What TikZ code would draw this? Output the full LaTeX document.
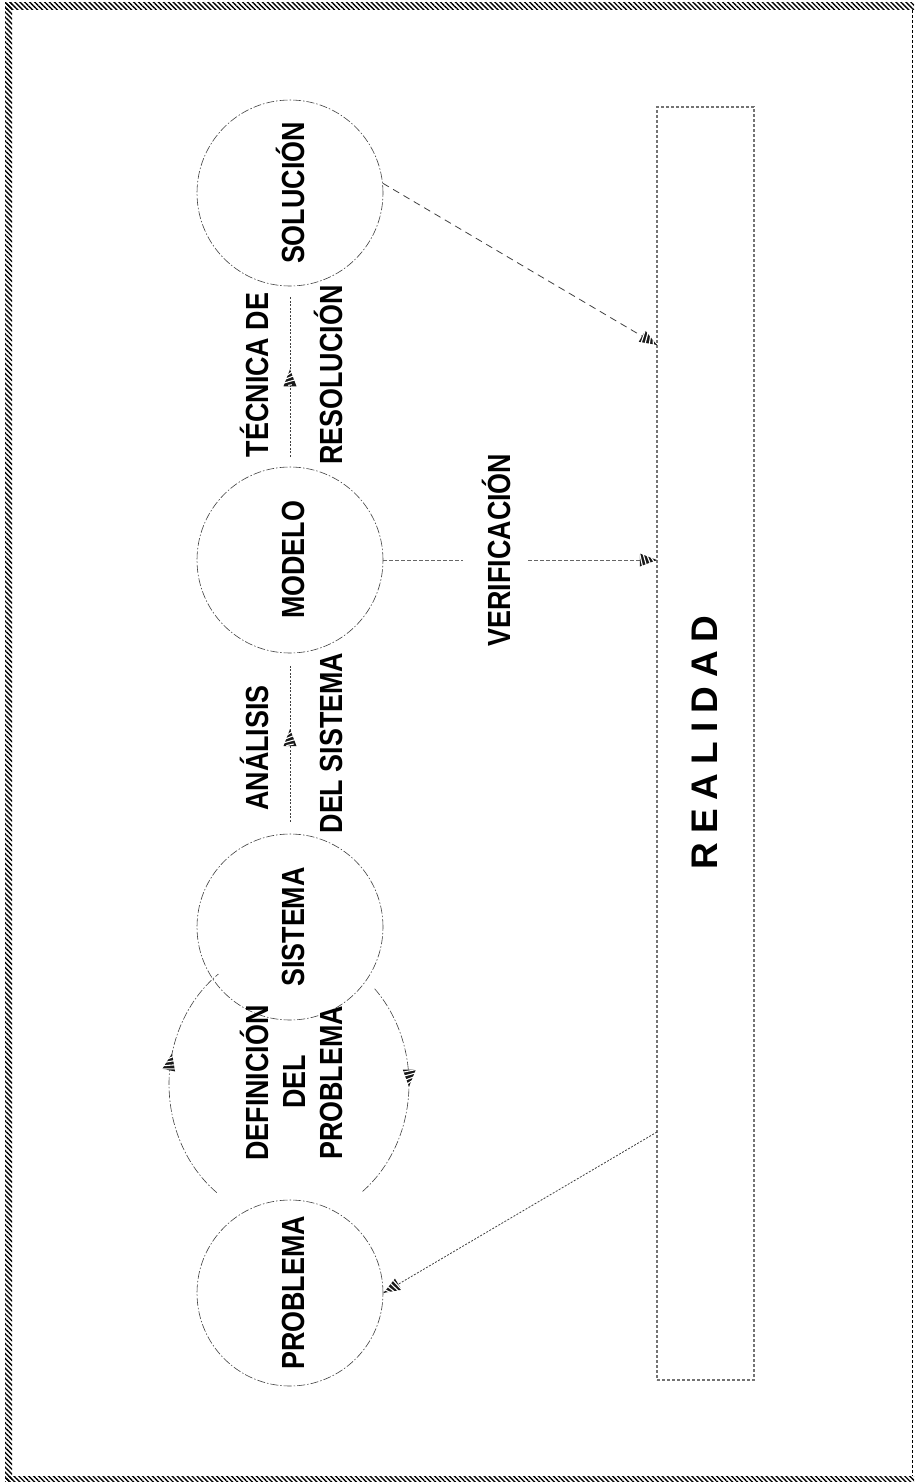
\documentclass[tikz,border=0pt]{standalone}
\usepackage{fontspec}
\newfontfamily\labfam[FakeStretch=0.84]{Liberation Sans}
\newfontfamily\realfam{Liberation Sans}
\usetikzlibrary{arrows.meta,decorations.markings,patterns.meta,calc}
\tikzset{
  circ/.style={circle, minimum size=186pt, inner sep=0pt, draw=black!75, line width=0.6pt,
    dash pattern=on 8pt off 2pt on 1.5pt off 2pt},
  lab/.style={rotate=90, anchor=base, inner sep=0pt,
    font=\labfam\bfseries\fontsize{32}{37}\selectfont},
  harrow/.style={postaction={decorate}, decoration={markings,
    mark=at position #1 with {
      \fill[black!90] (0pt,0pt) -- (-17pt,6.5pt) -- (-17pt,-6.5pt) -- cycle;
      \draw[white, solid, line width=1.1pt]
        (-2pt,-3pt) -- (-6pt,3pt)
        (-6pt,-5pt) -- (-10pt,5pt)
        (-10pt,-7pt) -- (-14pt,7pt)
        (-14pt,-8pt) -- (-17.5pt,8pt);
    }}},
  fine/.style={draw=black!75, line width=0.8pt, dash pattern=on 2pt off 1.5pt},
  verif/.style={draw=black!60, line width=1pt, dash pattern=on 4pt off 2pt},
  longdash/.style={draw=black!75, line width=0.8pt, dash pattern=on 7pt off 5pt},
  arcline/.style={draw=black!75, line width=0.6pt, dash pattern=on 8pt off 2pt on 1.5pt off 2pt},
  realbox/.style={draw=black!55, line width=1.3pt, dash pattern=on 3pt off 2pt,
    minimum width=97pt, minimum height=1273pt, inner sep=0pt},
  hatch/.style={pattern={Lines[angle=-45,distance=3.5pt,line width=1.4pt]}},
}
\begin{document}
\begin{tikzpicture}[x=1pt,y=-1pt]
\useasboundingbox (0,0) rectangle (914,1482);
% border
\fill[hatch] (5,3) rectangle (914,10);
\fill[hatch] (5,3) rectangle (12,1482);
\fill[hatch] (5,1476) rectangle (914,1482);
\coordinate (rt) at (912,10);
\coordinate (rb) at (912,1476);
\draw[black, line width=1pt, dash pattern=on 3pt off 2pt] (rt) -- (rb);

% circles
\node[circ] (SOL) at (290,193) {};
\node[circ] (MOD) at (290,560) {};
\node[circ] (SIS) at (290,927) {};
\node[circ] (PRO) at (290,1293) {};
\node[lab] (tSOL) at (304,193) {SOLUCIÓN};
\node[lab] (tMOD) at (304,560) {MODELO};
\node[lab] (tSIS) at (304,927) {SISTEMA};
\node[lab] (tPRO) at (304,1293) {PROBLEMA};

% reality box
\node[realbox] (REAL) at (705.5,743.5) {};
\node[rotate=90, anchor=base, inner sep=0pt, font=\realfam\bfseries\fontsize{37}{37}\selectfont]
  (tREAL) at (717,742.5) {R\hspace{9pt}E\hspace{9pt}A\hspace{9pt}L\hspace{9pt}I\hspace{9pt}D\hspace{9pt}A\hspace{9pt}D};

% model -> solution
\draw[fine, harrow=0.54, shorten <=10pt, shorten >=10pt] (MOD) -- (SOL);
\node[lab] (tTEC) at (268,375) {TÉCNICA DE};
\node[lab] (tRES) at (342,375) {RESOLUCIÓN};

% system -> model
\draw[fine, harrow=0.58, shorten <=12pt, shorten >=12pt] (SIS) -- (MOD);
\node[lab] (tANA) at (268,748) {ANÁLISIS};
\node[lab] (tDEL) at (342,743) {DEL SISTEMA};

% verification
\coordinate (v1) at (463,560);
\coordinate (v2) at (528,560);
\coordinate (v3) at (657,560);
\draw[verif] (MOD.east) -- (v1);
\draw[verif, harrow=0.999] (v2) -- (v3);
\node[lab] (tVER) at (510,550) {VERIFICACIÓN};

% solution -> reality
\coordinate (s1) at (657,345);
\draw[longdash, harrow=0.999] (SOL.6) -- (s1);

% reality -> problem
\coordinate (p1) at (657,1132);
\draw[fine, harrow=0.999] (p1) -- (PRO.east);

% definition arcs
\coordinate (dc) at (289,1084);
\draw[arcline, harrow=0.62] ($(dc)+(127:120 and 136)$) arc[start angle=127, end angle=234, x radius=120, y radius=136];
\draw[arcline, harrow=0.47] ($(dc)+(-44.5:120 and 136)$) arc[start angle=-44.5, end angle=53, x radius=120, y radius=136];
\node[lab] (tDEF1) at (268,1083) {DEFINICIÓN};
\node[lab] (tDEF2) at (305,1082) {DEL};
\node[lab] (tDEF3) at (342,1083) {PROBLEMA};
\end{tikzpicture}
\end{document}
